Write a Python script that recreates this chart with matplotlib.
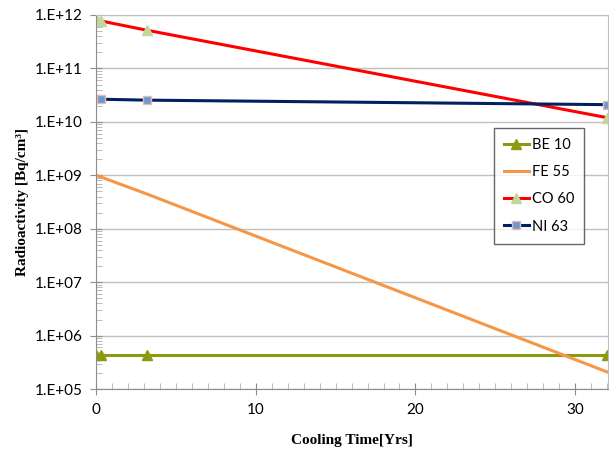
import matplotlib
matplotlib.use('Agg')
import matplotlib.pyplot as plt
from matplotlib.ticker import FixedLocator, MultipleLocator, FuncFormatter
import numpy as np

# cooling times (yrs) and activities (Bq/cm3)
times = [0, 0.33, 3.15, 32]
be10 = [4.4e5, 4.4e5, 4.4e5, 4.4e5]
fe55 = [1.0e9, 9.2e8, 4.5e8, 2.1e5]
co60 = [8.0e11, 7.7e11, 5.2e11, 1.2e10]
ni63 = [2.65e10, 2.65e10, 2.55e10, 2.1e10]

fig = plt.figure(figsize=(6.09, 4.54), dpi=100)
ax = fig.add_axes([0.158, 0.143, 0.84, 0.824])

ax.plot(times, be10, color='#8c9a10', lw=2.2, marker='^', ms=7,
        mfc='#8c9a10', mec='#8c9a10', label='BE 10')
ax.plot(times, fe55, color='#f79646', lw=2.2, label='FE 55')
ax.plot(times, co60, color='#ff0000', lw=2.2, marker='^', ms=7,
        mfc='#c4d79b', mec='#c4d79b', label='CO 60')
ax.plot(times, ni63, color='#002060', lw=2.2, marker='s', ms=6,
        mfc='#6a9acc', mec='#e6b9b8', label='NI 63')

ax.set_yscale('log')
ax.set_xlim(0, 32.05)
ax.set_ylim(1e5, 1e12)

ax.yaxis.set_major_locator(FixedLocator([10.0**k for k in range(5, 13)]))
ax.yaxis.set_major_formatter(FuncFormatter(lambda v, p: '1.E+%02d' % round(np.log10(v))))
ax.xaxis.set_major_locator(MultipleLocator(10))
ax.xaxis.set_minor_locator(MultipleLocator(1))

ax.grid(axis='y', which='major', color='#c0c0c0', lw=1)
ax.set_axisbelow(True)
for s in ['top', 'right']:
    ax.spines[s].set_color('#c0c0c0')
for s in ['left', 'bottom']:
    ax.spines[s].set_color('#8c8c8c')

ax.tick_params(which='major', direction='inout', length=8, color='#8c8c8c',
               labelsize=11, pad=6)
ax.tick_params(which='minor', direction='in', length=4, color='#b0b0b0')
ax.tick_params(axis='y', which='minor', labelleft=False)
for lab in ax.get_xticklabels() + ax.get_yticklabels():
    lab.set_family('Lato')

ax.set_xlabel('Cooling Time[Yrs]', family='Liberation Serif', fontweight='bold',
              fontsize=11, labelpad=12)
ax.set_ylabel('Radioactivity [Bq/cm³]', family='Liberation Serif',
              fontweight='bold', fontsize=11, labelpad=4)

leg = ax.legend(loc='upper left', bbox_to_anchor=(0.777, 0.698), frameon=True,
                fancybox=False, edgecolor='#404040',
                prop={'family': 'Lato', 'size': 10.5}, handlelength=1.7,
                labelspacing=0.9, borderpad=0.7, handletextpad=0.2,
                borderaxespad=0)
leg.get_frame().set_linewidth(1)

fig.savefig('out.png', dpi=100)
